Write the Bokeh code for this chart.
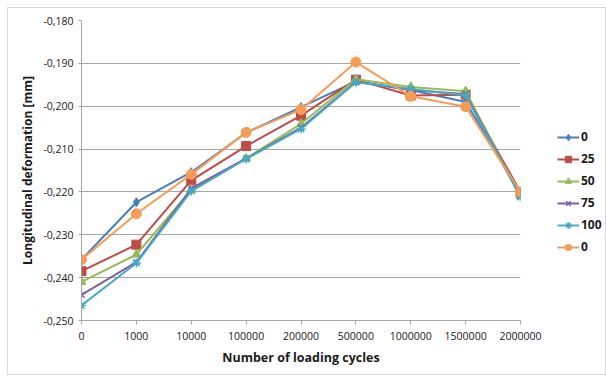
from bokeh.plotting import figure
from bokeh.layouts import row
from bokeh.models import Range1d, FixedTicker, CustomJSTickFormatter, Legend, LegendItem
from bokeh.embed import file_html
from bokeh.resources import INLINE

categories = ["0", "1000", "10000", "100000", "200000", "500000", "1000000", "1500000", "2000000"]
s0 = [-0.2358, -0.2224, -0.2154, -0.2062, -0.2002, -0.1942, -0.1962, -0.1990, -0.2203]
s25 = [-0.2385, -0.2323, -0.2173, -0.2093, -0.2022, -0.1938, -0.1975, -0.1973, -0.2200]
s50 = [-0.2410, -0.2346, -0.2195, -0.2122, -0.2041, -0.1937, -0.1955, -0.1965, -0.2210]
s75 = [-0.2440, -0.2364, -0.2192, -0.2122, -0.2050, -0.1943, -0.1962, -0.1972, -0.2210]
s100 = [-0.2465, -0.2366, -0.2198, -0.2123, -0.2053, -0.1944, -0.1960, -0.1975, -0.2212]
s0b = [-0.2358, -0.2251, -0.2159, -0.2061, -0.2008, -0.1897, -0.1977, -0.2001, -0.2200]
series_names = ["0", "25", "50", "75", "100", "0"]
y_ticks = [-0.25, -0.24, -0.23, -0.22, -0.21, -0.20, -0.19, -0.18]

xs = list(range(len(categories)))

p = figure(width=540, height=366, output_backend="svg", toolbar_location=None,
           x_range=Range1d(0, len(categories) - 1), y_range=Range1d(-0.25, -0.18),
           min_border_left=73, min_border_right=28, min_border_top=12, min_border_bottom=54)
p.outline_line_color = None
p.background_fill_color = "white"

font = "Open Sans"
p.xaxis.ticker = FixedTicker(ticks=xs)
p.xaxis.major_label_overrides = {i: c for i, c in enumerate(categories)}
p.xaxis.axis_label = "Number of loading cycles"
p.yaxis.ticker = FixedTicker(ticks=y_ticks)
p.yaxis.formatter = CustomJSTickFormatter(code="return tick.toFixed(3).replace('.', ',');")
p.yaxis.axis_label = "Longitudinal deformation [mm]"
for ax in (p.xaxis[0], p.yaxis[0]):
    ax.axis_line_color = "#a6a6a6"
    ax.major_tick_line_color = "#a6a6a6"
    ax.minor_tick_line_color = None
    ax.major_tick_in = 0
    ax.major_label_text_font = font
    ax.major_label_text_font_size = "10.5px"
    ax.major_label_text_color = "#1a1a1a"
    ax.axis_label_text_font = font
    ax.axis_label_text_font_size = "12px"
    ax.axis_label_text_font_style = "bold"
    ax.axis_label_text_color = "#1a1a1a"
p.xaxis.axis_label_text_font_size = "12.5px"
p.xaxis.major_tick_out = 4
p.yaxis.major_tick_out = 3
p.xaxis.major_label_standoff = 7
p.yaxis.major_label_standoff = 5
p.xaxis.axis_label_standoff = 6
p.yaxis.axis_label_standoff = 4
p.xgrid.grid_line_color = None
p.ygrid.ticker = FixedTicker(ticks=y_ticks)
p.ygrid.grid_line_color = "#a6a6a6"
p.ygrid.grid_line_width = 1

colors = ["#4A7EBB", "#BE4B48", "#98B954", "#7D60A0", "#46AAC5", "#F59D56"]
markers = ["diamond", "square", "triangle", "x", "asterisk", "circle"]
sizes = [9, 9, 9, 8, 9, 10]
data = [s0, s25, s50, s75, s100, s0b]

# separate panel for the legend, to the right of the plot; its y range (0..1)
# lies outside the data, so the series there only serve as legend swatches
pl = figure(width=57, height=366, output_backend="svg", toolbar_location=None,
            x_range=Range1d(0, 1), y_range=Range1d(0, 1),
            x_axis_location=None, y_axis_location=None, min_border=0)
pl.outline_line_color = None
pl.grid.visible = False

items = []
for name, ys, c, m, sz in zip(series_names, data, colors, markers, sizes):
    p.line(xs, ys, line_color=c, line_width=2)
    if m in ("x", "asterisk"):
        p.scatter(xs, ys, marker=m, size=sz, line_color=c, line_width=1.5)
    else:
        p.scatter(xs, ys, marker=m, size=sz, fill_color=c, line_color=c)
    l1 = pl.line(xs, ys, line_color=c, line_width=2)
    if m in ("x", "asterisk"):
        l2 = pl.scatter(xs, ys, marker=m, size=sz - 1, line_color=c, line_width=1.5)
    else:
        l2 = pl.scatter(xs, ys, marker=m, size=sz - 1, fill_color=c, line_color=c)
    items.append(LegendItem(label=name, renderers=[l1, l2]))

legend = Legend(items=items, location=(9, 65))
legend.background_fill_alpha = 0
legend.border_line_color = None
legend.label_text_font = font
legend.label_text_font_size = "12px"
legend.label_text_font_style = "bold"
legend.label_text_color = "#1a1a1a"
legend.glyph_width = 22
legend.glyph_height = 16
legend.label_height = 16
legend.spacing = 5
legend.padding = 0
legend.margin = 0
legend.label_standoff = 2
pl.add_layout(legend)

layout = row(p, pl)
layout.styles = {"border": "1px solid #d9d9d9", "margin": "7px 0 0 7px"}

open("out.html", "w").write(file_html(layout, INLINE))
